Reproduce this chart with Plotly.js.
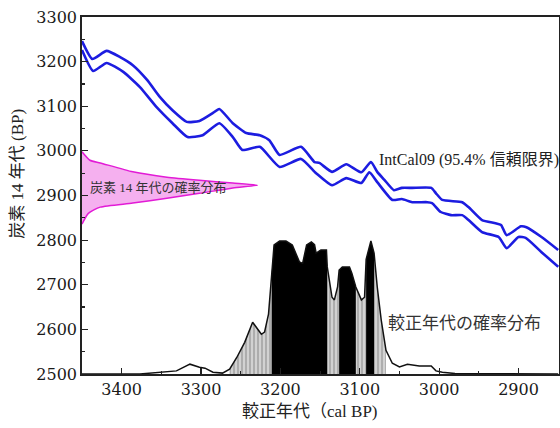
<!DOCTYPE html>
<html>
<head>
<meta charset="utf-8">
<script src="https://cdn.plot.ly/plotly-3.0.1.min.js"></script>
<style>body{margin:0;background:#fff;} #chart{width:560px;height:428px;}</style>
</head>
<body>
<div id="chart"></div>
<script>
// IntCal09 95.4% band – upper and lower limits (cal BP, 14C BP)
const upperX = [3450,3437,3419,3402,3386,3368,3352,3336,3318,3302,3285,3277,3260,3243,3226,3214,3201,3174,3157,3151,3135,3117,3098,3086,3078,3069,3057,3047,3034,3010,3004,2996,2971,2963,2946,2929,2922,2915,2897,2890,2871,2850];
const upperY = [3246,3206,3224,3210,3192,3159,3121,3091,3065,3067,3085,3094,3062,3040,3035,3024,2991,3009,2975,2973,2953,2970,2952,2975,2953,2935,2912,2917,2917,2917,2905,2890,2885,2874,2845,2838,2834,2811,2831,2829,2807,2778];
const lowerX = [3450,3436,3419,3398,3377,3356,3336,3317,3298,3277,3260,3248,3226,3201,3174,3155,3135,3117,3098,3088,3078,3059,3047,3034,3015,3009,2998,2985,2971,2963,2946,2925,2915,2900,2891,2871,2850];
const lowerY = [3226,3179,3197,3177,3143,3098,3062,3031,3035,3062,3031,3002,3009,2964,2982,2950,2923,2939,2928,2952,2930,2890,2892,2885,2885,2883,2863,2856,2856,2845,2818,2807,2782,2807,2805,2773,2740];

// Radiocarbon age probability distribution (outline drawn against the left axis)
const c14X = [3450,3440,3427,3386,3343,3302,3260,3229,3260,3302,3343,3386,3427,3442,3450];
const c14Y = [2998,2979,2973,2953,2941,2934,2928,2923,2917,2905,2894,2883,2874,2860,2836];

// Calibrated age probability distribution outline
const calX = [3450,3377,3331,3314,3302,3295,3285,3273,3264,3255,3245,3235,3224,3220,3215,3211,3208,3201,3193,3185,3176,3172,3167,3161,3157,3155,3149,3142,3141,3135,3132,3128,3126,3122,3113,3110,3105,3098,3094,3092,3086,3082,3078,3073,3067,3059,3050,3040,3025,3010,3004,2996,2980,2850];
const calY = [2500,2500,2507,2522,2515,2513,2504,2502,2511,2537,2571,2616,2589,2594,2634,2728,2789,2798,2798,2789,2751,2748,2789,2796,2790,2771,2778,2778,2740,2672,2666,2695,2733,2740,2740,2726,2695,2666,2672,2757,2798,2771,2695,2621,2553,2524,2516,2522,2518,2518,2507,2504,2501,2500];

// 95.4% range (grey) and 68.2% ranges (black)
const range95 = [[3264, 3067]];
const ranges68 = [[3211, 3141], [3126, 3105], [3092, 3082]];

const xTicks = [3400, 3300, 3200, 3100, 3000, 2900];
const yTicks = [2500, 2600, 2700, 2800, 2900, 3000, 3100, 3200, 3300];

function interp(x) {
  for (let i = 0; i < calX.length - 1; i++) {
    const a = calX[i], b = calX[i+1];
    if ((x <= a && x >= b)) {
      const t = (a === b) ? 0 : (a - x) / (a - b);
      return calY[i] + t * (calY[i+1] - calY[i]);
    }
  }
  return calY[calY.length-1];
}
function segment(hi, lo) {
  const xs = [hi], ys = [interp(hi)];
  for (let i = 0; i < calX.length; i++) {
    if (calX[i] < hi && calX[i] > lo) { xs.push(calX[i]); ys.push(calY[i]); }
  }
  xs.push(lo); ys.push(interp(lo));
  return {xs, ys};
}

const traces = [];
range95.forEach(r => {
  const s = segment(r[0], r[1]);
  traces.push({x: s.xs, y: s.ys, type: 'scatter', mode: 'lines', fill: 'tozeroy',
    line: {width: 0, color: 'rgba(0,0,0,0)'}, fillcolor: '#b8b8b8',
    fillpattern: {shape: '|', fgcolor: '#ececec', bgcolor: '#adadad', size: 4, solidity: 0.3},
    hoverinfo: 'skip', showlegend: false});
});
ranges68.forEach(r => {
  const s = segment(r[0], r[1]);
  traces.push({x: s.xs, y: s.ys, type: 'scatter', mode: 'lines', fill: 'tozeroy',
    line: {width: 0, color: 'rgba(0,0,0,0)'}, fillcolor: '#000000',
    hoverinfo: 'skip', showlegend: false});
});
traces.push({x: calX, y: calY, type: 'scatter', mode: 'lines',
  line: {color: '#111', width: 1.5}, showlegend: false});
traces.push({x: c14X, y: c14Y, type: 'scatter', mode: 'lines', fill: 'toself',
  fillcolor: '#f5b0ef', line: {color: '#e21bd6', width: 1.5, shape: 'spline', smoothing: 0.6}, showlegend: false});
traces.push({x: upperX, y: upperY, type: 'scatter', mode: 'lines',
  line: {color: '#1c1ce0', width: 2.6, shape: 'spline', smoothing: 0.5}, showlegend: false});
traces.push({x: lowerX, y: lowerY, type: 'scatter', mode: 'lines',
  line: {color: '#1c1ce0', width: 2.6, shape: 'spline', smoothing: 0.5}, showlegend: false});

const serif = 'DejaVu Serif, Liberation Serif, serif';
const jp = 'Liberation Serif, Noto Sans CJK JP, serif';

const layout = {
  width: 560, height: 428,
  margin: {l: 82, r: 1, t: 17, b: 54},
  paper_bgcolor: '#fff', plot_bgcolor: '#fff',
  showlegend: false,
  xaxis: {
    range: [3450, 2849], tickvals: xTicks, ticktext: xTicks.map(String),
    ticks: 'inside', ticklen: 6, tickwidth: 1.2, tickcolor: '#222',
    minor: {dtick: 50, ticks: 'inside', ticklen: 3, tickcolor: '#222'},
    showgrid: false, zeroline: false,
    showline: true, linecolor: '#222', linewidth: 1.8, mirror: true,
    tickfont: {family: serif, size: 16, color: '#1a1a1a'}
  },
  yaxis: {
    range: [2500, 3300], tickvals: yTicks, ticktext: yTicks.map(String),
    ticks: 'inside', ticklen: 6, tickwidth: 1.2, tickcolor: '#222',
    minor: {dtick: 50, ticks: 'inside', ticklen: 3, tickcolor: '#222'},
    showgrid: false, zeroline: false,
    showline: true, linecolor: '#222', linewidth: 1.8, mirror: true,
    tickfont: {family: serif, size: 16, color: '#1a1a1a'}
  },
  annotations: [
    {text: 'IntCal09 (95.4% 信頼限界)', x: 3078, y: 2979, xref: 'x', yref: 'y',
     xanchor: 'left', yanchor: 'middle', showarrow: false,
     font: {family: jp, size: 16, color: '#222'}},
    {text: '炭素 14 年代の確率分布', x: 3443, y: 2919, xref: 'x', yref: 'y',
     xanchor: 'left', yanchor: 'middle', showarrow: false,
     font: {family: jp, size: 13, color: '#333'}},
    {text: '較正年代の確率分布', x: 3067, y: 2614, xref: 'x', yref: 'y',
     xanchor: 'left', yanchor: 'middle', showarrow: false,
     font: {family: jp, size: 17, color: '#333'}},
    {text: '較正年代（cal BP)', x: 0.478, y: -0.105, xref: 'paper', yref: 'paper',
     xanchor: 'center', yanchor: 'middle', showarrow: false,
     font: {family: jp, size: 17, color: '#222'}},
    {text: '炭素 14 年代 (BP)', x: -0.137, y: 0.56, xref: 'paper', yref: 'paper',
     xanchor: 'center', yanchor: 'middle', showarrow: false, textangle: -90,
     font: {family: jp, size: 17, color: '#222'}}
  ]
};

Plotly.newPlot('chart', traces, layout, {displayModeBar: false, staticPlot: true});
</script>
</body>
</html>
